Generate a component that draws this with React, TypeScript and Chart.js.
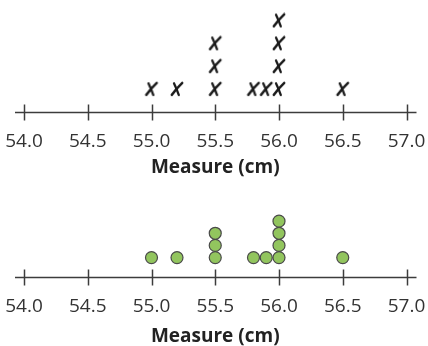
import React, { useEffect, useRef } from "react";
import { Chart, registerables } from "chart.js";

Chart.register(...registerables);

// ---- data ----
const measures: number[] = [55.0, 55.2, 55.5, 55.5, 55.5, 55.8, 55.9, 56.0, 56.0, 56.0, 56.0, 56.5];
const tickValues: number[] = [54.0, 54.5, 55.0, 55.5, 56.0, 56.5, 57.0];
const axisMin = 54.0;
const axisMax = 57.0;
const axisTitle = "Measure (cm)";

// stack each repeated value on top of the previous ones
function stackPoints(values: number[]) {
  const counts: Record<string, number> = {};
  return values.map((v) => {
    const k = v.toFixed(2);
    counts[k] = (counts[k] || 0) + 1;
    return { x: v, y: counts[k] };
  });
}

function makeCrossImage(): HTMLCanvasElement {
  const c = document.createElement("canvas");
  c.width = 16;
  c.height = 16;
  const ctx = c.getContext("2d")!;
  ctx.strokeStyle = "#1b1b1b";
  ctx.lineCap = "round";
  ctx.lineWidth = 2.3;
  ctx.beginPath();
  ctx.moveTo(5, 2.2);
  ctx.quadraticCurveTo(7.6, 7.5, 9.8, 13.8);
  ctx.stroke();
  ctx.lineWidth = 2.5;
  ctx.beginPath();
  ctx.moveTo(13.2, 1.8);
  ctx.quadraticCurveTo(7.5, 7.2, 2.8, 13.8);
  ctx.stroke();
  return c;
}

const axisPlugin = {
  id: "numberLine",
  afterDraw(chart: any) {
    const xs = chart.scales.x;
    const ctx = chart.ctx;
    const y = Math.round(chart.chartArea.bottom) + 0.5;
    ctx.save();
    ctx.strokeStyle = "#3c3c3c";
    ctx.lineWidth = 1.3;
    ctx.beginPath();
    ctx.moveTo(xs.getPixelForValue(axisMin) - 9, y);
    ctx.lineTo(xs.getPixelForValue(axisMax) + 10, y);
    ctx.stroke();
    ctx.lineWidth = 1.5;
    tickValues.forEach((v) => {
      const px = Math.round(xs.getPixelForValue(v)) + 0.5;
      ctx.beginPath();
      ctx.moveTo(px, y - 8);
      ctx.lineTo(px, y + 8);
      ctx.stroke();
    });
    ctx.restore();
  },
};

function makeConfig(kind: "cross" | "dot", yMin: number, yMax: number, padding: any, axisHeight: number, titlePadBottom: number) {
  const pts = stackPoints(measures);
  const dataset: any =
    kind === "cross"
      ? { data: pts, pointStyle: makeCrossImage(), pointRadius: 8 }
      : {
          data: pts,
          pointStyle: "circle",
          pointRadius: 6,
          backgroundColor: "#92c55e",
          borderColor: "#4a4a4a",
          borderWidth: 1.2,
        };
  return {
    type: "scatter" as const,
    data: { datasets: [dataset] },
    options: {
      animation: false as const,
      responsive: false,
      devicePixelRatio: 1,
      layout: { padding },
      plugins: { legend: { display: false }, tooltip: { enabled: false } },
      scales: {
        x: {
          type: "linear" as const,
          min: axisMin,
          max: axisMax,
          afterBuildTicks: (s: any) => {
            s.ticks = tickValues.map((v) => ({ value: v }));
          },
          afterFit: (s: any) => {
            s.height = axisHeight;
            s.paddingLeft = 0;
            s.paddingRight = 0;
          },
          grid: { display: false, drawTicks: false },
          border: { display: false },
          ticks: {
            padding: 18,
            color: "#333333",
            font: { family: "'Open Sans'", size: 19 },
            callback: (v: any) => Number(v).toFixed(1),
            maxRotation: 0,
            autoSkip: false,
          },
          title: {
            display: true,
            text: axisTitle,
            color: "#222222",
            font: { family: "'Open Sans'", size: 19, weight: "bold" as const },
            padding: { top: 0, bottom: titlePadBottom },
          },
        },
        y: { display: false, min: yMin, max: yMax },
      },
    },
    plugins: [axisPlugin],
  };
}

function PlotCanvas(props: {
  kind: "cross" | "dot";
  height: number;
  top: number;
  yMin: number;
  yMax: number;
  padding: any;
  axisHeight: number;
  titlePadBottom: number;
}) {
  const ref = useRef<HTMLCanvasElement>(null);
  useEffect(() => {
    if (!ref.current) return;
    const chart = new Chart(
      ref.current,
      makeConfig(props.kind, props.yMin, props.yMax, props.padding, props.axisHeight, props.titlePadBottom) as any
    );
    return () => chart.destroy();
  }, []);
  return (
    <div style={{ position: "absolute", left: 0, top: props.top, width: 428, height: props.height }}>
      <canvas ref={ref} width={428} height={props.height} style={{ display: "block", width: 428, height: props.height }} />
    </div>
  );
}

export default function App() {
  return (
    <div style={{ position: "absolute", left: 0, top: 0, width: 428, height: 346, background: "#ffffff", overflow: "hidden" }}>
      <PlotCanvas
        kind="cross"
        top={0}
        height={180}
        yMin={0}
        yMax={4.5}
        padding={{ left: 24, right: 21.5, top: 4, bottom: 1 }}
        axisHeight={67}
        titlePadBottom={0}
      />
      <PlotCanvas
        kind="dot"
        top={178}
        height={168}
        yMin={-0.6}
        yMax={5}
        padding={{ left: 24, right: 21.5, top: 31, bottom: 0 }}
        axisHeight={69}
        titlePadBottom={-1.5}
      />
    </div>
  );
}
